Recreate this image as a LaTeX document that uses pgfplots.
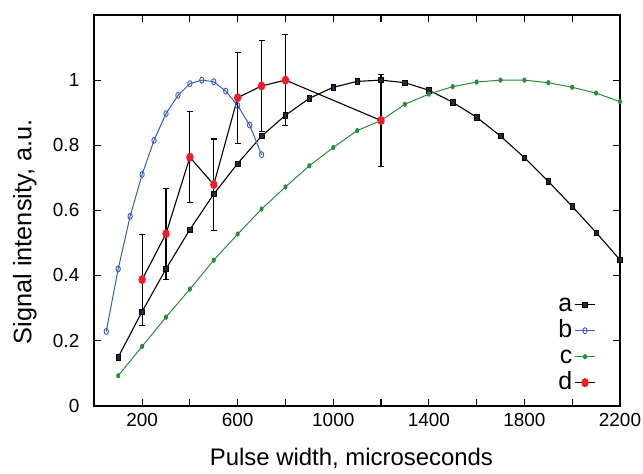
\documentclass[border=0pt]{standalone}
\usepackage{fontspec}
\setmainfont{Liberation Sans}
\usepackage{pgfplots}
\pgfplotsset{compat=1.18}

\definecolor{sqnavy}{RGB}{30,40,62}
\definecolor{lineblue}{RGB}{55,90,190}
\definecolor{linegreen}{RGB}{40,140,60}
\definecolor{dotred}{RGB}{240,30,40}

\begin{document}
\begin{tikzpicture}
\begin{axis}[
  scale only axis,
  width=525.7bp, height=390.7bp,
  xmin=0, xmax=2200, ymin=0, ymax=1.2,
  xtick={200,600,...,2200},
  minor xtick={400,800,...,2000},
  ytick={0,0.2,0.4,0.6,0.8,1},
  major tick length=7bp, minor tick length=7bp,
  tick style={black, line width=1.1bp},
  axis line style={line width=1.6bp},
  tick align=inside,
  ticklabel style={font=\fontsize{19}{22}\selectfont},
  /pgf/number format/assume math mode=true,
  /pgf/number format/1000 sep={},
  yticklabel style={xshift=-11.5bp},
  xticklabel style={yshift=-4.5bp},
  xlabel={Pulse width, microseconds},
  ylabel={Signal intensity, a.u.},
  xlabel style={font=\fontsize{24}{28}\selectfont,
    at={(axis description cs:0.489,0)}, anchor=base, yshift=-59.3bp},
  ylabel style={font=\fontsize{25.4}{30}\selectfont,
    at={(axis description cs:-0.1195,0.445)}, anchor=base},
  legend style={draw=none, fill=none, at={(rel axis cs:0.96,0.02)}, anchor=south east,
    font=\fontsize{25}{28}\selectfont, legend plot pos=right,
    nodes={text height=18bp, text depth=4bp, inner sep=2bp}},
  legend cell align=right,
  legend image code/.code={\draw[mark repeat=2,mark phase=2,#1] plot coordinates {(0cm,0cm) (0.36cm,0cm) (0.72cm,0cm)};},
]
\addplot[black, line width=1.1bp, mark=square*, mark size=2.3bp,
  mark options={fill=sqnavy, draw=black, line width=0.6bp, yscale=1.15}] coordinates {
  (100,0.149)(200,0.289)(300,0.42)(400,0.541)(500,0.65)(600,0.744)(700,0.828)
  (800,0.892)(900,0.944)(1000,0.978)(1100,0.996)(1200,1.0)(1300,0.992)(1400,0.969)
  (1500,0.932)(1600,0.886)(1700,0.828)(1800,0.762)(1900,0.689)(2000,0.612)
  (2100,0.532)(2200,0.448)
};
\addlegendentry{a}
\addplot[lineblue, line width=1bp, mark=o, mark size=3bp,
  mark options={xscale=0.72, line width=0.9bp}] coordinates {
  (50,0.228)(100,0.42)(150,0.582)(200,0.71)(250,0.815)(300,0.897)(350,0.953)
  (400,0.989)(450,1.0)(500,0.995)(550,0.966)(600,0.922)(650,0.862)(700,0.771)
};
\addlegendentry{b}
\addplot[linegreen, line width=1bp, mark=*, mark size=1.9bp,
  mark options={xscale=0.8, yscale=1.1}] coordinates {
  (100,0.092)(200,0.182)(300,0.272)(400,0.358)(500,0.447)(600,0.527)(700,0.604)
  (800,0.672)(900,0.737)(1000,0.793)(1100,0.845)(1200,0.876)(1300,0.926)
  (1400,0.957)(1500,0.98)(1600,0.994)(1700,1.0)(1800,1.0)(1900,0.992)
  (2000,0.978)(2100,0.96)(2200,0.934)
};
\addlegendentry{c}
\addplot[black, line width=1.1bp, mark=*, mark size=4bp,
  mark options={fill=dotred, draw=dotred, xscale=0.78},
  error bars/.cd, y dir=both, y explicit,
  error bar style={black, line width=1.1bp},
  error mark options={rotate=90, mark size=3bp, black, line width=1.1bp}]
  coordinates {
  (200,0.387) +- (0,0.14)
  (300,0.528) +- (0,0.14)
  (400,0.763) +- (0,0.14)
  (500,0.679) +- (0,0.14)
  (600,0.946) +- (0,0.14)
  (700,0.982) +- (0,0.14)
  (800,1.0) +- (0,0.14)
  (1200,0.876) +- (0,0.14)
};
\addlegendentry{d}
\end{axis}
\pgfresetboundingbox
\path (current axis.south west) ++(-94.3bp,-68.3bp) rectangle ++(643bp,474bp);
\end{tikzpicture}
\end{document}
